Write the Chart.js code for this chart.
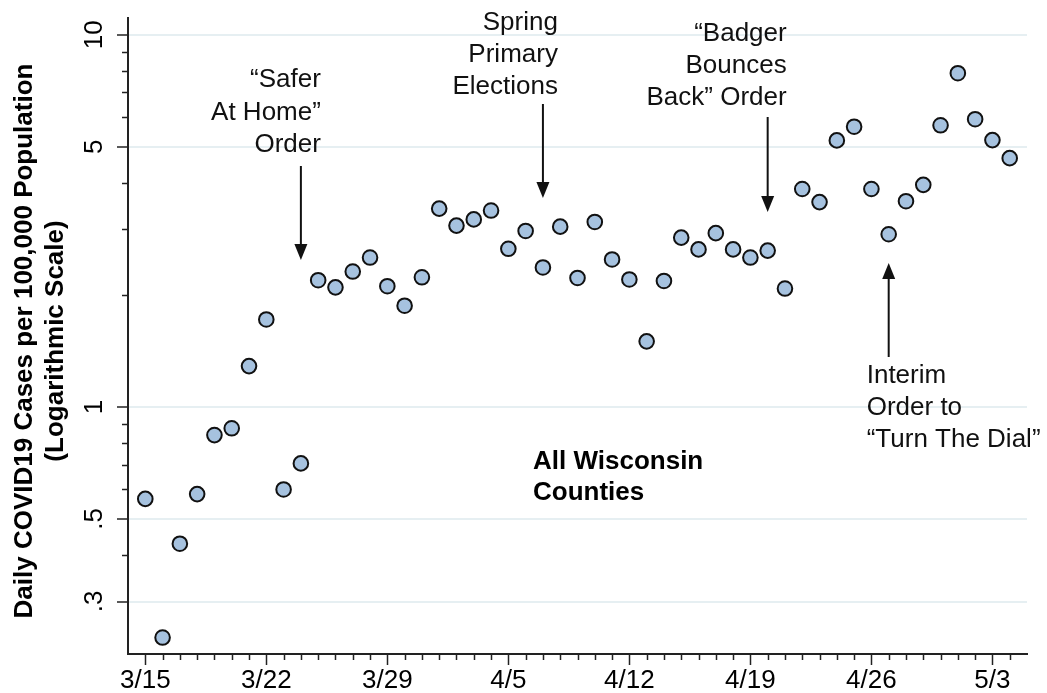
<!DOCTYPE html>
<html>
<head>
<meta charset="utf-8">
<script src="https://cdn.jsdelivr.net/npm/chart.js@4.4.1/dist/chart.umd.min.js"></script>
<style>
  html, body { margin: 0; padding: 0; background: #fff; }
  #wrap { width: 1047px; height: 693px; }
</style>
</head>
<body>
<div id="wrap"><canvas id="casesChart" width="1047" height="693"></canvas></div>
<script>
// one point per day, 3/15 .. 5/4
const days = [
  '3/15', '3/16', '3/17', '3/18', '3/19', '3/20', '3/21', '3/22', '3/23', '3/24',
  '3/25', '3/26', '3/27', '3/28', '3/29', '3/30', '3/31', '4/1', '4/2', '4/3',
  '4/4', '4/5', '4/6', '4/7', '4/8', '4/9', '4/10', '4/11', '4/12', '4/13',
  '4/14', '4/15', '4/16', '4/17', '4/18', '4/19', '4/20', '4/21', '4/22', '4/23',
  '4/24', '4/25', '4/26', '4/27', '4/28', '4/29', '4/30', '5/1', '5/2', '5/3', '5/4'
];
const cases = [
  0.566, 0.240, 0.429, 0.583, 0.840, 0.876, 1.287, 1.718, 0.600, 0.705,
  2.19, 2.095, 2.31, 2.52, 2.11, 1.87, 2.23, 3.41, 3.07, 3.19,
  3.37, 2.66, 2.97, 2.37, 3.05, 2.22, 3.14, 2.49, 2.20, 1.50,
  2.18, 2.85, 2.65, 2.93, 2.65, 2.52, 2.63, 2.08, 3.85, 3.55,
  5.20, 5.66, 3.85, 2.91, 3.57, 3.95, 5.71, 7.88, 5.93, 5.21, 4.66
];
const xTickLabels = ['3/15', '3/22', '3/29', '4/5', '4/12', '4/19', '4/26', '5/3'];
const yTickValues = [0.3, 0.5, 1, 5, 10];
const yTickLabels = ['.3', '.5', '1', '5', '10'];
const yMinorValues = [0.4, 0.6, 0.7, 0.8, 0.9, 2, 3, 4, 6, 7, 8, 9];

// events marked with arrows
const noteDays = ['3/24', '4/7', '4/20', '4/27'];
const noteTexts = [
  ['\u201CSafer', 'At Home\u201D', 'Order'],
  ['Spring', 'Primary', 'Elections'],
  ['\u201CBadger', 'Bounces', 'Back\u201D Order'],
  ['Interim', 'Order to', '\u201CTurn The Dial\u201D']
];
const panelLabel = ['All Wisconsin', 'Counties'];

const FONT = "'Liberation Sans', Arial, Helvetica, sans-serif";
const axisColor = '#222';
const gridColor = '#e6eff2';

const points = cases.map((v, i) => ({ x: i, y: v }));

// pixel layout for the annotations: text anchor offset from arrow, line centres, arrow ends
const noteLayout = [
  { dx: 20, align: 'right', lines: [80, 113, 145], from: 166, to: 260 },
  { dx: 15, align: 'right', lines: [23, 55, 87], from: 104, to: 198 },
  { dx: 19, align: 'right', lines: [34, 66, 98], from: 117, to: 212 },
  { dx: -22, align: 'left', lines: [376, 408, 440], from: 357, to: 263 }
];

function arrow(ctx, x, y0, y1) {
  const dir = y1 > y0 ? 1 : -1;
  ctx.beginPath();
  ctx.moveTo(x, y0);
  ctx.lineTo(x, y1 - dir * 10);
  ctx.stroke();
  ctx.beginPath();
  ctx.moveTo(x, y1);
  ctx.lineTo(x - 6.5, y1 - dir * 16);
  ctx.lineTo(x + 6.5, y1 - dir * 16);
  ctx.closePath();
  ctx.fill();
}

const extras = {
  id: 'extras',
  afterDraw(chart) {
    const { ctx, chartArea } = chart;
    const x = chart.scales.x, y = chart.scales.y;
    ctx.save();

    // minor tick marks
    ctx.strokeStyle = axisColor;
    ctx.lineWidth = 1.5;
    ctx.beginPath();
    days.forEach((d, i) => {
      if (xTickLabels.includes(d)) return;
      const px = Math.round(x.getPixelForValue(i)) + 0.5;
      ctx.moveTo(px, chartArea.bottom);
      ctx.lineTo(px, chartArea.bottom + 6);
    });
    yMinorValues.forEach(v => {
      const py = Math.round(y.getPixelForValue(v)) + 0.5;
      ctx.moveTo(chartArea.left - 6, py);
      ctx.lineTo(chartArea.left, py);
    });
    ctx.stroke();

    // y axis title
    ctx.fillStyle = '#000';
    ctx.font = 'bold 26px ' + FONT;
    ctx.textAlign = 'center';
    ctx.textBaseline = 'alphabetic';
    ctx.save();
    ctx.translate(0, 341);
    ctx.rotate(-Math.PI / 2);
    ctx.fillText('Daily COVID19 Cases per 100,000 Population', 0, 32);
    ctx.fillText('(Logarithmic Scale)', 0, 63);
    ctx.restore();

    // panel label
    ctx.textAlign = 'left';
    ctx.textBaseline = 'middle';
    ctx.fillText(panelLabel[0], 533, 462);
    ctx.fillText(panelLabel[1], 533, 493);

    // event notes
    ctx.font = '26px ' + FONT;
    ctx.fillStyle = '#111';
    ctx.strokeStyle = '#111';
    ctx.lineWidth = 2;
    noteDays.forEach((d, k) => {
      const ax = x.getPixelForValue(days.indexOf(d));
      const lay = noteLayout[k];
      ctx.textAlign = lay.align;
      noteTexts[k].forEach((t, j) => ctx.fillText(t, ax + lay.dx, lay.lines[j]));
      arrow(ctx, ax, lay.from, lay.to);
    });

    ctx.restore();
  }
};

new Chart(document.getElementById('casesChart'), {
  type: 'scatter',
  data: {
    datasets: [{
      data: points,
      pointRadius: 7.3,
      pointHoverRadius: 7.3,
      pointBackgroundColor: '#a6c2df',
      pointBorderColor: '#111',
      pointBorderWidth: 2,
      pointHoverBorderWidth: 2
    }]
  },
  options: {
    responsive: false,
    devicePixelRatio: 1,
    animation: false,
    layout: { padding: { top: 18, right: 20, left: 0, bottom: 0 } },
    plugins: {
      legend: { display: false },
      tooltip: { enabled: false }
    },
    scales: {
      x: {
        type: 'linear',
        min: -1,
        max: 51,
        afterBuildTicks: (scale) => {
          scale.ticks = xTickLabels.map(l => ({ value: days.indexOf(l) }));
        },
        afterFit: (scale) => {
          scale.height = 39;
          scale.paddingLeft = 0;
          scale.paddingRight = 0;
        },
        border: { color: axisColor, width: 2 },
        grid: {
          drawOnChartArea: false,
          drawTicks: true,
          tickLength: 11,
          tickColor: axisColor,
          tickWidth: 1.5
        },
        ticks: {
          autoSkip: false,
          minRotation: 0,
          maxRotation: 0,
          padding: 0,
          color: '#000',
          font: { family: FONT, size: 26 },
          callback: (v) => days[v]
        }
      },
      y: {
        type: 'logarithmic',
        min: 0.2168,
        max: 11.09,
        afterBuildTicks: (scale) => {
          scale.ticks = yTickValues.map(v => ({ value: v }));
        },
        afterFit: (scale) => {
          scale.width = 128;
          scale.paddingTop = 0;
          scale.paddingBottom = 0;
        },
        border: { color: axisColor, width: 2 },
        grid: {
          color: gridColor,
          lineWidth: 2,
          drawTicks: true,
          tickLength: 11,
          tickColor: axisColor,
          tickWidth: 1.5
        },
        ticks: {
          autoSkip: false,
          minRotation: 90,
          maxRotation: 90,
          crossAlign: 'center',
          padding: 8,
          color: '#000',
          font: { family: FONT, size: 26 },
          callback: (v) => {
            const i = yTickValues.indexOf(v);
            return i >= 0 ? yTickLabels[i] : '';
          }
        }
      }
    }
  },
  plugins: [extras]
});
</script>
</body>
</html>
